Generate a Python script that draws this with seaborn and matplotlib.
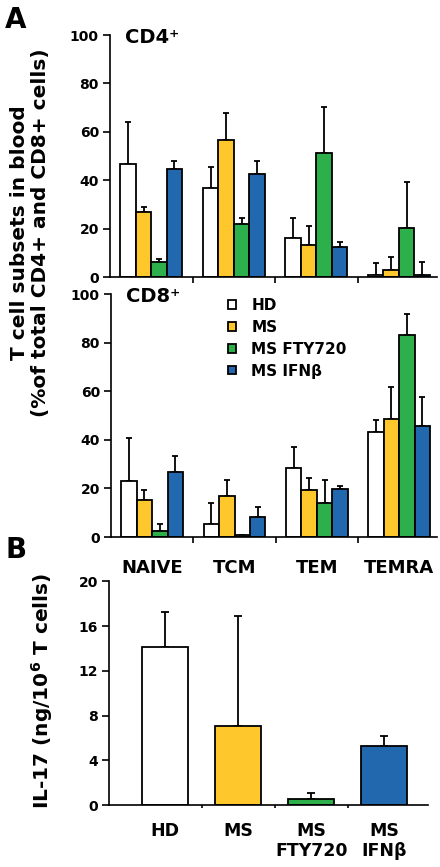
import matplotlib
matplotlib.use("Agg")
import matplotlib.pyplot as plt
import seaborn as sns
import numpy as np
import pandas as pd

subsets = ["NAIVE", "TCM", "TEM", "TEMRA"]
groups = ["HD", "MS", "MS FTY720", "MS IFNβ"]
colors = ["#FFFFFF", "#FEC72B", "#2DB04B", "#2268AE"]

# CD4+ subsets (% of total), mean and upper error (SD) per group
cd4_hd = [46.8, 36.6, 16.0, 1.0]
cd4_ms = [26.8, 56.7, 13.3, 3.0]
cd4_fty = [6.2, 22.0, 51.2, 20.4]
cd4_ifn = [44.6, 42.5, 12.5, 1.0]
cd4_hd_err = [17.4, 8.8, 8.5, 4.8]
cd4_ms_err = [2.1, 11.0, 7.9, 5.3]
cd4_fty_err = [1.1, 2.3, 19.2, 18.8]
cd4_ifn_err = [3.5, 5.5, 1.9, 5.3]

# CD8+ subsets
cd8_hd = [22.9, 5.4, 28.6, 43.3]
cd8_ms = [15.1, 16.8, 19.5, 48.8]
cd8_fty = [2.5, 0.7, 14.0, 83.1]
cd8_ifn = [26.6, 8.4, 19.8, 45.6]
cd8_hd_err = [17.8, 8.7, 8.5, 4.8]
cd8_ms_err = [4.1, 6.6, 5.0, 13.0]
cd8_fty_err = [2.9, np.nan, 9.6, 8.7]
cd8_ifn_err = [6.9, 4.1, 1.2, 12.1]

# IL-17 secretion
il17 = [14.1, 7.1, 0.5, 5.3]
il17_err = [3.2, 9.8, 0.6, 0.9]
il17_labels = ["HD", "MS", "MS\nFTY720", "MS\nIFNβ"]

sns.set_style("ticks")
plt.rcParams["font.family"] = ["DejaVu Sans"]
plt.rcParams["font.weight"] = "bold"
plt.rcParams["axes.linewidth"] = 1.2
plt.rcParams["mathtext.default"] = "bf"
plt.rcParams["text.color"] = "black"
plt.rcParams["xtick.color"] = "black"
plt.rcParams["ytick.color"] = "black"
plt.rcParams["axes.edgecolor"] = "black"

EDGE = 1.3


def long_df(vals):
    rows = []
    for g, v in zip(groups, vals):
        for s, vv in zip(subsets, v):
            rows.append({"subset": s, "group": g, "value": vv})
    return pd.DataFrame(rows)


def draw_errors(ax, containers, errs):
    for cont, err in zip(containers, errs):
        xs = [p.get_x() + p.get_width() / 2 for p in cont.patches]
        hs = [p.get_height() for p in cont.patches]
        ax.errorbar(xs, hs, yerr=[np.zeros(len(err)), err], fmt="none",
                    ecolor="black", elinewidth=1.3, capsize=2, capthick=1.3,
                    zorder=1)


def panel(ax, df, errs, title, show_labels):
    sns.barplot(data=df, x="subset", y="value", hue="group", palette=colors,
                saturation=1, width=0.75, edgecolor="black", linewidth=EDGE,
                errorbar=None, legend=False, ax=ax, zorder=2)
    draw_errors(ax, ax.containers, errs)
    ax.set_xlim(-0.5, 3.46)
    ax.set_ylim(0, 100)
    ax.set_yticks([0, 20, 40, 60, 80, 100])
    ax.set_xticks([0.5, 1.5, 2.5], minor=True)
    ax.tick_params(axis="x", which="major", length=0, pad=16, labelsize=13)
    ax.tick_params(axis="x", which="minor", length=4, width=1.2, direction="out")
    ax.tick_params(axis="y", length=5, width=1.2, labelsize=10, pad=3)
    if not show_labels:
        ax.set_xticklabels([])
    ax.set_xlabel("")
    ax.set_ylabel("")
    sns.despine(ax=ax)
    ax.text(0.045, 1.03, title, transform=ax.transAxes, fontsize=14,
            fontweight="bold", va="top", ha="left")


fig = plt.figure(figsize=(4.4, 8.67), dpi=100)
ax1 = fig.add_axes([0.25, 0.6805, 0.743, 0.279])
ax2 = fig.add_axes([0.2523, 0.3806, 0.741, 0.280])
ax3 = fig.add_axes([0.2477, 0.0715, 0.725, 0.258])

panel(ax1, long_df([cd4_hd, cd4_ms, cd4_fty, cd4_ifn]),
      [cd4_hd_err, cd4_ms_err, cd4_fty_err, cd4_ifn_err], "CD4⁺", False)
panel(ax2, long_df([cd8_hd, cd8_ms, cd8_fty, cd8_ifn]),
      [cd8_hd_err, cd8_ms_err, cd8_fty_err, cd8_ifn_err], "CD8⁺", True)

leg = ax2.legend(ax2.containers, groups, loc="upper left",
                 bbox_to_anchor=(0.36, 0.985), frameon=False, fontsize=11,
                 handlelength=0.5, handleheight=0.5, handletextpad=1.0,
                 labelspacing=0.45, borderpad=0, borderaxespad=0)

# panel B
sns.barplot(x=il17_labels, y=il17, hue=il17_labels, palette=colors, saturation=1,
            width=0.63, edgecolor="black", linewidth=EDGE, errorbar=None,
            legend=False, ax=ax3, zorder=2)
xs = [c.patches[0].get_x() + c.patches[0].get_width() / 2 for c in ax3.containers]
ax3.errorbar(xs, il17, yerr=[np.zeros(4), il17_err], fmt="none", ecolor="black",
             elinewidth=1.3, capsize=3, capthick=1.3, zorder=1)
ax3.set_xlim(-0.77, 3.6)
ax3.set_ylim(0, 20)
ax3.set_yticks([0, 4, 8, 12, 16, 20])
ax3.set_xticks([0.5, 1.5, 2.5], minor=True)
ax3.tick_params(axis="x", which="major", length=0, pad=12, labelsize=12.5)
ax3.tick_params(axis="x", which="minor", length=2, width=1.2, direction="out")
ax3.tick_params(axis="y", length=5, width=1.2, labelsize=10, pad=3)
sns.despine(ax=ax3)

fig.text(5 / 440, 1 - 6 / 867, "A", fontsize=20, fontweight="bold",
         va="top", ha="left")
fig.text(5 / 440, 1 - 536 / 867, "B", fontsize=20, fontweight="bold",
         va="top", ha="left")
fig.text(30 / 440, 1 - 233 / 867,
         "T cell subsets in blood\n(%of total CD4+ and CD8+ cells)",
         rotation=90, fontsize=14.5, fontweight="bold", ha="center",
         va="center", multialignment="center", linespacing=1.1)
fig.text(42 / 440, 1 - 691 / 867, r"IL-17 (ng/10$^{6}$ T cells)",
         rotation=90, fontsize=14.5, fontweight="bold", ha="center",
         va="center")

fig.savefig("out.png", dpi=100)
